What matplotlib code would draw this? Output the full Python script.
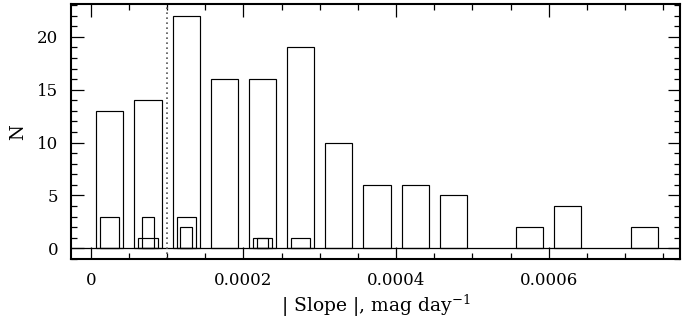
import matplotlib
matplotlib.use("Agg")
import matplotlib.pyplot as plt
import numpy as np
from matplotlib.ticker import MultipleLocator, FixedLocator

# Data (bin centres in mag/day, counts)
bin_centers = [0.000025, 0.000075, 0.000125, 0.000175, 0.000225, 0.000275, 0.000325,
               0.000375, 0.000425, 0.000475, 0.000525, 0.000575, 0.000625, 0.000675, 0.000725]
counts_all = [13, 14, 22, 16, 16, 19, 10, 6, 6, 5, 0, 2, 4, 0, 2]
counts_sub1 = [3, 1, 3, 0, 1, 1, 0, 0, 0, 0, 0, 0, 0, 0, 0]
counts_sub2 = [0, 3, 2, 0, 1, 0, 0, 0, 0, 0, 0, 0, 0, 0, 0]
threshold = 0.0001
x_ticks = [0, 0.0002, 0.0004, 0.0006]
x_ticklabels = ["0", "0.0002", "0.0004", "0.0006"]
y_ticks = [0, 5, 10, 15, 20]

plt.rcParams['font.family'] = ['DejaVu Serif']
plt.rcParams['mathtext.fontset'] = 'dejavuserif'
fig = plt.figure(figsize=(6.83, 3.25), dpi=100)
ax = fig.add_axes([0.104, 0.202, 0.8916, 0.7848])

binw = 0.00005

def draw(counts, frac):
    c = np.array(bin_centers)
    v = np.array(counts)
    m = v > 0
    ax.bar(c[m], v[m], width=binw * frac, fill=False, edgecolor='black', linewidth=0.85)

draw(counts_all, 0.71)
draw(counts_sub1, 0.5)
draw(counts_sub2, 0.3)

ax.axhline(0, color='black', linewidth=0.9)
ax.axvline(threshold, color='#555555', linestyle=(0, (1, 2)), linewidth=1.2)

ax.set_xlim(-0.0000258, 0.000772)
ax.set_ylim(-1.04, 23.08)

ax.xaxis.set_major_locator(FixedLocator(x_ticks))
ax.set_xticklabels(x_ticklabels)
ax.xaxis.set_minor_locator(MultipleLocator(0.00005))
ax.yaxis.set_major_locator(FixedLocator(y_ticks))
ax.yaxis.set_minor_locator(MultipleLocator(1))

ax.tick_params(which='both', direction='in', top=True, right=True, labelsize=12, color='black')
ax.tick_params(which='major', length=9, width=0.9)
ax.tick_params(axis='x', which='major', pad=9)
ax.tick_params(axis='y', which='major', pad=9)
ax.tick_params(which='minor', length=4.5, width=0.9)
for s in ax.spines.values():
    s.set_linewidth(1.5)

ax.set_xlabel("| Slope |, mag day$^{-1}$", fontsize=13.5, labelpad=3)
ax.set_ylabel("N", fontsize=13, labelpad=7)

fig.savefig("out.png", dpi=100)
